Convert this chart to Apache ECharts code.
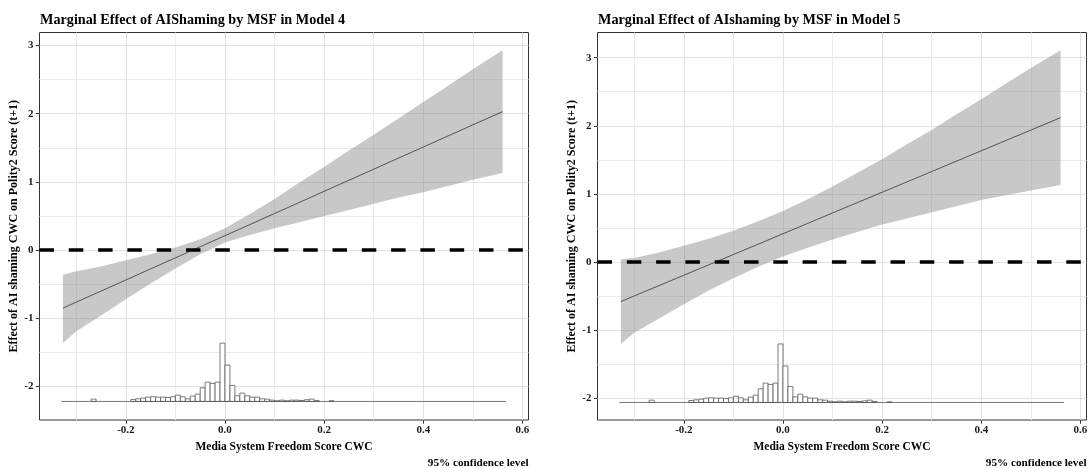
<!DOCTYPE html>
<html><head><meta charset="utf-8">
<script src="https://cdn.jsdelivr.net/npm/echarts@6/dist/echarts.min.js"></script>
<style>html,body{margin:0;padding:0;background:#fff}#c{width:1091px;height:468px}</style>
</head><body><div id="c"></div>
<script>
// ---------------- data ----------------
const titles = ['Marginal Effect of AIShaming by MSF in Model 4', 'Marginal Effect of AIshaming by MSF in Model 5'];
const xTitle = 'Media System Freedom Score CWC';
const yTitle = 'Effect of AI shaming CWC on Polity2 Score (t+1)';
const caption = '95% confidence level';

const xTicks = [-0.2, 0.0, 0.2, 0.4, 0.6];
const xMinor = [-0.3, -0.1, 0.1, 0.3, 0.5];
const yTicks = [-2, -1, 0, 1, 2, 3];
const yMinor4 = [-1.5, -0.5, 0.5, 1.5, 2.5];
const yMinor5 = [-1.5, -0.5, 0.5, 1.5, 2.5];

// moderator values where the marginal effect was read
const ciX = [-0.327, -0.3, -0.25, -0.2, -0.15, -0.1, -0.05, 0, 0.05, 0.1, 0.15, 0.2, 0.25, 0.3, 0.35, 0.4, 0.45, 0.5, 0.56];

// Model 4
const est4   = [-0.85, -0.762, -0.60, -0.438, -0.275, -0.113, 0.05, 0.212, 0.374, 0.537, 0.699, 0.862, 1.024, 1.186, 1.349, 1.511, 1.674, 1.836, 2.03];
const upper4 = [-0.36, -0.31, -0.24, -0.15, -0.06, 0.04, 0.16, 0.32, 0.53, 0.75, 0.99, 1.22, 1.46, 1.69, 1.93, 2.17, 2.41, 2.65, 2.93];
const lower4 = [-1.36, -1.19, -0.96, -0.72, -0.49, -0.27, -0.06, 0.11, 0.22, 0.32, 0.41, 0.50, 0.59, 0.68, 0.77, 0.85, 0.94, 1.03, 1.13];

// Model 5
const est5   = [-0.58, -0.498, -0.346, -0.194, -0.042, 0.11, 0.262, 0.415, 0.567, 0.72, 0.872, 1.024, 1.176, 1.328, 1.481, 1.633, 1.785, 1.937, 2.12];
const upper5 = [0.04, 0.06, 0.14, 0.24, 0.34, 0.46, 0.60, 0.75, 0.92, 1.11, 1.31, 1.51, 1.73, 1.94, 2.17, 2.39, 2.62, 2.85, 3.11];
const lower5 = [-1.20, -1.04, -0.83, -0.62, -0.42, -0.24, -0.07, 0.08, 0.21, 0.33, 0.44, 0.55, 0.64, 0.73, 0.82, 0.91, 0.98, 1.05, 1.13];

// histogram of the moderator (bin left edges, bin width 0.01, relative counts)
const histLeft  = [-0.27, -0.19, -0.18, -0.17, -0.16, -0.15, -0.14, -0.13, -0.12, -0.11, -0.10, -0.09, -0.08, -0.07, -0.06, -0.05, -0.04, -0.03, -0.02, -0.01,
                   0.00, 0.01, 0.02, 0.03, 0.04, 0.05, 0.06, 0.07, 0.08, 0.09, 0.10, 0.11, 0.12, 0.13, 0.14, 0.15, 0.16, 0.17, 0.18, 0.21];
const histCount = [7, 6, 8, 10, 13, 14, 13, 13, 12, 14, 19, 14, 8, 16, 22, 41, 58, 54, 58, 175,
                   109, 48, 17, 25, 17, 13, 13, 8, 7, 4, 2, 4, 2, 4, 4, 3, 5, 7, 3, 2];
const histBinWidth = 0.01;
const histRange = [-0.33, 0.567];
const histBase = [-2.218, -2.063];
const histPeak = [0.855, 0.86];

const xLim = [-0.3742, 0.6123];
const yLim = [[-2.49, 3.19], [-2.32, 3.37]];

// ---------------- chart ----------------
const FONT = 'Liberation Serif';
const chart = echarts.init(document.getElementById('c'), null, {renderer: 'canvas'});

const panels = [
  {est: est4, up: upper4, lo: lower4, yMinor: yMinor4, left: 39.5},
  {est: est5, up: upper5, lo: lower5, yMinor: yMinor5, left: 597.5}
];

const grid = [], xAxis = [], yAxis = [], series = [], graphic = [];
const maxCount = Math.max.apply(null, histCount);

panels.forEach((p, g) => {
  grid.push({left: p.left, top: 32.5, width: 489, height: 387.5, show: true,
             borderColor: '#333', borderWidth: 1, backgroundColor: 'transparent', containLabel: false});
  const lab = {fontFamily: FONT, fontWeight: 'bold', fontSize: 11, color: '#1a1a1a'};
  // major x
  xAxis.push({type: 'value', gridIndex: g, min: xLim[0], max: xLim[1], position: 'bottom',
    axisLine: {show: false, onZero: false},
    axisTick: {show: true, length: 3.7, lineStyle: {color: '#333', width: 1}, customValues: xTicks},
    axisLabel: Object.assign({customValues: xTicks, margin: 5, formatter: v => v.toFixed(1)}, lab),
    splitLine: {show: true, lineStyle: {color: '#e2e2e2', width: 1}},
    name: xTitle, nameLocation: 'middle', nameGap: 20,
    nameTextStyle: {fontFamily: FONT, fontWeight: 'bold', fontSize: 11.5, color: '#000'}
  });
  // minor x
  xAxis.push({type: 'value', gridIndex: g, min: xLim[0], max: xLim[1], position: 'top',
    axisLine: {show: false, onZero: false}, axisLabel: {show: false},
    axisTick: {show: false, customValues: xMinor},
    splitLine: {show: true, lineStyle: {color: '#ebebeb', width: 1}}
  });
  yAxis.push({type: 'value', gridIndex: g, min: yLim[g][0], max: yLim[g][1], position: 'left',
    axisLine: {show: false, onZero: false},
    axisTick: {show: true, length: 3.7, lineStyle: {color: '#333', width: 1}, customValues: yTicks},
    axisLabel: Object.assign({customValues: yTicks, margin: 6, formatter: v => String(v)}, lab),
    splitLine: {show: true, lineStyle: {color: '#e2e2e2', width: 1}},
    name: yTitle, nameLocation: 'middle', nameGap: 19.5,
    nameTextStyle: {fontFamily: FONT, fontWeight: 'bold', fontSize: 12, color: '#000'}
  });
  yAxis.push({type: 'value', gridIndex: g, min: yLim[g][0], max: yLim[g][1], position: 'right',
    axisLine: {show: false, onZero: false}, axisLabel: {show: false},
    axisTick: {show: false, customValues: p.yMinor},
    splitLine: {show: true, lineStyle: {color: '#ebebeb', width: 1}}
  });

  const xi = 2 * g, yi = 2 * g;
  // confidence ribbon
  series.push({type: 'custom', xAxisIndex: xi, yAxisIndex: yi, silent: true, z: 2,
    data: [[ciX[0], p.est[0]]],
    renderItem: (params, api) => {
      const pts = [];
      for (let i = 0; i < ciX.length; i++) pts.push(api.coord([ciX[i], p.up[i]]));
      for (let i = ciX.length - 1; i >= 0; i--) pts.push(api.coord([ciX[i], p.lo[i]]));
      return {type: 'polygon', shape: {points: pts}, style: {fill: 'rgba(128,128,128,0.43)'}};
    }
  });
  // estimate line + zero reference
  series.push({type: 'line', xAxisIndex: xi, yAxisIndex: yi, silent: true, z: 3,
    data: ciX.map((x, i) => [x, p.est[i]]), showSymbol: false, symbol: 'none',
    lineStyle: {color: '#333', width: 0.8},
    markLine: {silent: true, symbol: ['none', 'none'], label: {show: false},
      lineStyle: {color: '#000', width: 3.7, type: [14.5, 14.8]},
      data: [{yAxis: 0}]}
  });
  // histogram
  const scale = histPeak[g] / maxCount;
  const base = histBase[g];
  series.push({type: 'custom', xAxisIndex: xi, yAxisIndex: yi, silent: true, z: 4,
    data: histLeft.map((x, i) => [x, x + histBinWidth, histCount[i]]),
    encode: {x: [0, 1], y: 2},
    renderItem: (params, api) => {
      const p0 = api.coord([api.value(0), base + api.value(2) * scale]);
      const p1 = api.coord([api.value(1), base]);
      return {type: 'rect', shape: {x: p0[0], y: p0[1], width: p1[0] - p0[0], height: p1[1] - p0[1]},
              style: {fill: '#fff', stroke: '#5a5a5a', lineWidth: 0.8}};
    }
  });
  series.push({type: 'line', xAxisIndex: xi, yAxisIndex: yi, silent: true, z: 5,
    data: [[histRange[0], base], [histRange[1], base]], showSymbol: false, symbol: 'none',
    lineStyle: {color: '#555', width: 0.8}
  });

  graphic.push({type: 'text', x: p.left + 0.5, y: 20, silent: true,
    style: {text: titles[g], fontFamily: FONT, fontWeight: 'bold', fontSize: 14.2, fill: '#000',
            align: 'left', verticalAlign: 'middle'}});
  graphic.push({type: 'text', x: p.left + 489, y: 463.5, silent: true,
    style: {text: caption, fontFamily: FONT, fontWeight: 'bold', fontSize: 11.2, fill: '#000',
            align: 'right', verticalAlign: 'middle'}});
});

chart.setOption({animation: false, backgroundColor: '#fff', grid, xAxis, yAxis, series, graphic});
</script></body></html>
